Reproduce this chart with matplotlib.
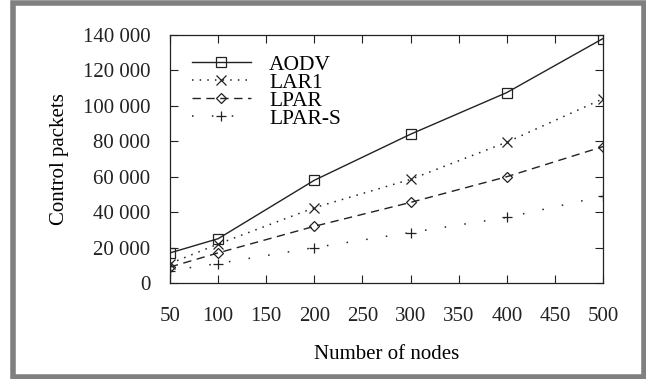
import matplotlib.pyplot as plt
from matplotlib.patches import Rectangle
from matplotlib.ticker import FuncFormatter

# Data
nodes = [50, 100, 200, 300, 400, 500]
aodv = [17000, 25000, 58000, 84000, 107500, 138000]
lar1 = [11000, 22000, 42500, 58500, 79500, 104000]
lpar = [9000, 17000, 32000, 45500, 60000, 77000]
lpar_s = [7000, 11000, 20000, 28500, 37000, 49000]

plt.rcParams['font.family'] = ['Liberation Serif', 'DejaVu Serif']
plt.rcParams['font.size'] = 15

fig = plt.figure(figsize=(6.46, 3.79), dpi=100)
ax = fig.add_axes([170 / 646, 1 - 283 / 379, (603 - 170) / 646, (283 - 35) / 379])

# gray frame around the picture
fig.patches.append(Rectangle((13.5 / 646, 2 / 379), (643.5 - 13.5) / 646, (376 - 2) / 379,
                             transform=fig.transFigure, fill=False,
                             edgecolor='#808080', linewidth=4))

c = '#222222'
ax.plot(nodes, aodv, color=c, lw=1.0, ls='-', marker='s', ms=6.5,
        mfc='none', mec=c, mew=0.9, label='AODV')
ax.plot(nodes, lar1, color=c, lw=1.1, ls=(0, (1, 4)), marker='x', ms=6.5,
        mec=c, mew=0.9, label='LAR1')
ax.plot(nodes, lpar, color=c, lw=1.0, ls=(0, (6, 4)), marker='D', ms=5.5,
        mfc='none', mec=c, mew=0.9, label='LPAR')
ax.plot(nodes, lpar_s, color=c, lw=1.1, ls=(0, (1, 12)), marker='+', ms=7.5,
        mec=c, mew=0.9, label='LPAR-S')

ax.set_xlim(50, 500)
ax.set_ylim(0, 140000)
ax.set_xticks(range(50, 501, 50))
ax.set_yticks(range(0, 140001, 20000))
ax.yaxis.set_major_formatter(FuncFormatter(lambda v, p: f'{int(v):,}'.replace(',', ' ')))
ax.tick_params(direction='in', top=True, right=True, length=6, width=0.8,
               labelsize=15, colors='#222222')
ax.tick_params(axis='x', pad=17)
ax.tick_params(axis='y', pad=14)
for s in ax.spines.values():
    s.set_linewidth(0.9)
    s.set_color('#222222')

ax.set_xlabel('Number of nodes', fontsize=15, labelpad=14)
ax.set_ylabel('Control packets', fontsize=15, labelpad=10)

leg = ax.legend(loc='upper left', bbox_to_anchor=(0.03, 0.955), frameon=False,
                fontsize=15.5, handlelength=2.75, labelspacing=-0.1,
                handletextpad=0.85, borderaxespad=0.0)

fig.savefig('out.png', dpi=100)
